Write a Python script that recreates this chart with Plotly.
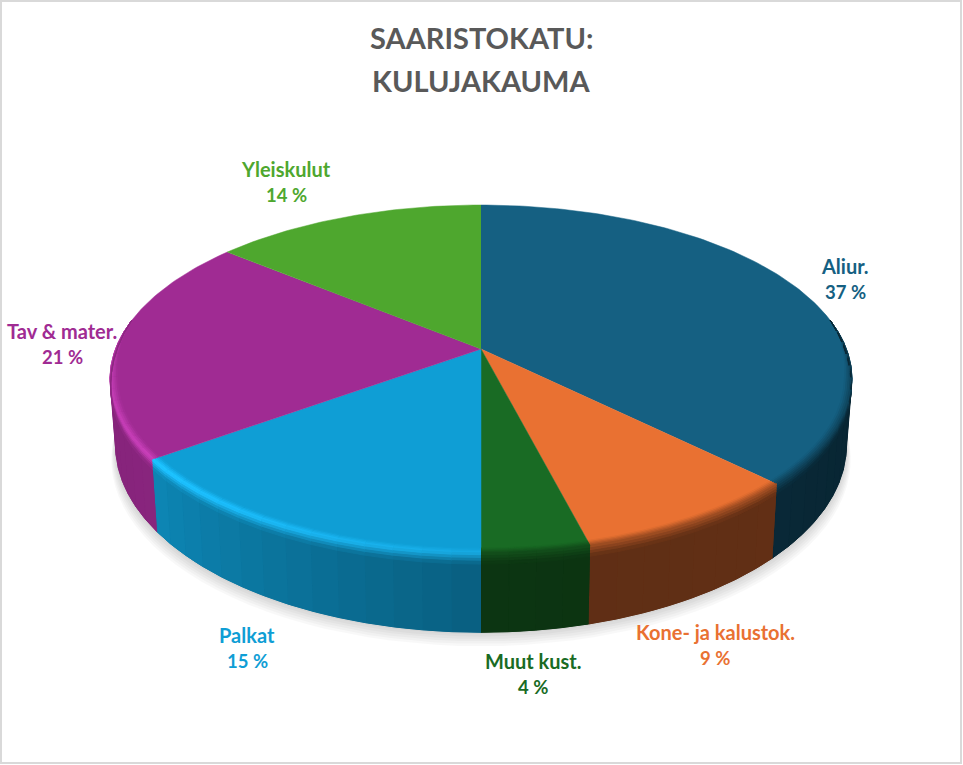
"""3D style cost split pie (Saaristokatu), drawn from the share values with filled traces."""

import numpy as np
import plotly.graph_objects as go

# values (labels show them rounded)
CATEGORIES = ["Aliur.", "Kone- ja kalustok.", "Muut kust.", "Palkat", "Tav & mater.", "Yleiskulut"]
SHARES = [37.4, 8.6, 4.0, 15.0, 21.0, 14.0]
TITLE_LINES = ["SAARISTOKATU:", "KULUJAKAUMA"]

COLORS = ["#156082", "#E97132", "#196B24", "#0F9ED5", "#A02B93", "#4EA72E"]
TITLE_COLOR = "#595959"
BORDER = "#d9d9d9"
FONT = "Lato"

# label centres in page pixels: (x, y of name, y of percent)
LABEL_POS = [(845, 266, 292), (715, 632, 658), (533, 661, 687),
             (247, 635, 661), (62, 331, 357), (286, 169, 195)]

# pie geometry in page pixels
W, H = 963, 765
CX, CY = 481, 349
A, B, K = 365.4, 168.8, 0.1724   # ellipse radii and perspective
DROP, SHRINK_X, GROW_Y = 64, 0.015, 0.075   # how the lower rim sits against the upper
BEVEL_SIDE, BEVEL_TOP = 0.14, 0.02
RIM_FROM, RIM_TO = 80, 280
STEP = 4
LAYERS = 8

# brightness of the wall by clockwise angle
SHADE_DEG = [80, 133, 165.5, 166, 179.9, 180, 234, 280]
SHADE_VAL = [0.36, 0.42, 0.41, 0.48, 0.50, 0.60, 0.85, 0.83]
# rim highlight strength by clockwise angle
GLOW_DEG = [0, 179.9, 180, 234, 285, 360]
GLOW_VAL = [0, 0, 0.6, 1.0, 0.7, 0.7]


def rgb(color):
    return np.array([int(color[i:i + 2], 16) for i in (1, 3, 5)], dtype=float)


def css(c):
    c = np.clip(c, 0, 255).round().astype(int)
    return f"rgb({c[0]},{c[1]},{c[2]})"


def top_xy(deg, r=1.0):
    th = np.radians(deg)
    x, y = r * np.sin(th), -r * np.cos(th)
    d = 1 - K * y
    return CX + A * x / d, CY + B * y / d


def wall_xy(deg, t):
    px, py = top_xy(deg)
    return CX + (px - CX) * (1 - SHRINK_X * t), CY + DROP * t + (py - CY) * (1 + GROW_Y * t)


def taper(deg):
    return np.clip(min(deg - RIM_FROM, RIM_TO - deg) / 20, 0, 1)


def rim_xy(deg, u):
    # u 0..0.5 runs over the top edge, 0.5..1 goes down the wall
    w = taper(deg)
    if u <= 0.5:
        return top_xy(deg, 1 - BEVEL_TOP * w * (1 - 2 * u))
    return wall_xy(deg, (u - 0.5) * 2 * BEVEL_SIDE * w)


def poly(fig, pts, color, name=None, width=1.0):
    fig.add_trace(go.Scatter(
        x=[p[0] for p in pts], y=[p[1] for p in pts], mode="lines", fill="toself",
        fillcolor=color, line=dict(color=color, width=width), showlegend=False,
        hoverinfo="text" if name else "skip", text=name,
    ))


def cell(fig, a0, a1, f0, f1, color):
    d0 = np.linspace(a0, a1, 3)
    poly(fig, [f0(d) for d in d0] + [f1(d) for d in d0[::-1]], color)


def rim_edges(a, b):
    lo, hi = max(a, RIM_FROM), min(b, RIM_TO)
    if lo >= hi:
        return []
    n = max(1, int(np.ceil((hi - lo) / STEP)))
    return np.linspace(lo, hi, n + 1)


fig = go.Figure()

# soft shadow below the lower rim
circle = np.arange(0, 361, 3)
for i in range(6):
    pts = [wall_xy(d, 1) for d in circle]
    xs = [CX + (p[0] - CX) * (1.002 + 0.002 * i) for p in pts]
    ys = [p[1] + 2 + 2.4 * i for p in pts]
    fig.add_trace(go.Scatter(x=xs, y=ys, mode="lines", fill="toself",
                             fillcolor="rgba(0,0,0,0.028)", line=dict(width=0),
                             showlegend=False, hoverinfo="skip"))

ends = np.cumsum(SHARES) / sum(SHARES) * 360
starts = np.concatenate([[0], ends[:-1]])

# walls: one solid piece per slice, then the shaded strips on it
for a, b, color in zip(starts, ends, COLORS):
    edges = rim_edges(a, b)
    if len(edges) == 0:
        continue
    base = rgb(color)
    mid = (edges[0] + edges[-1]) / 2
    whole = np.linspace(edges[0], edges[-1], 40)
    poly(fig, [wall_xy(d, 0) for d in whole] + [wall_xy(d, 1) for d in whole[::-1]],
         css(base * np.interp(mid, SHADE_DEG, SHADE_VAL)), width=0.5)
    for d0, d1 in zip(edges[:-1], edges[1:]):
        shade = np.interp((d0 + d1) / 2, SHADE_DEG, SHADE_VAL)
        cell(fig, d0, d1,
             lambda d: wall_xy(d, BEVEL_SIDE * taper(d)),
             lambda d: wall_xy(d, 1),
             css(base * shade))

# top faces
for name, share, a, b, color in zip(CATEGORIES, SHARES, starts, ends, COLORS):
    arc = np.arange(a, b + 0.5, 1.0)
    arc[-1] = b
    poly(fig, [(CX, CY)] + [top_xy(d) for d in arc], color, name=f"{name} {share:.0f} %", width=0.5)

# rounded rim between top face and wall
for a, b, color in zip(starts, ends, COLORS):
    edges = rim_edges(a, b)
    base = rgb(color)
    for d0, d1 in zip(edges[:-1], edges[1:]):
        mid = (d0 + d1) / 2
        wall = base * np.interp(mid, SHADE_DEG, SHADE_VAL)
        glow = np.interp(mid, GLOW_DEG, GLOW_VAL)
        peak = (base + (wall - base) * 0.5 * (1 - glow)) * (1 + 0.2 * glow) + 14 * glow
        for j in range(LAYERS):
            u0, u1 = j / LAYERS, (j + 1) / LAYERS
            u = (u0 + u1) / 2
            if u < 0.5:
                c = base + (peak - base) * (u / 0.5)
            else:
                c = peak + (wall - peak) * ((u - 0.5) / 0.5)
            cell(fig, d0, d1, lambda d: rim_xy(d, u0), lambda d: rim_xy(d, u1), css(c))

# labels
for name, share, color, (x, y0, y1) in zip(CATEGORIES, SHARES, COLORS, LABEL_POS):
    fig.add_annotation(x=x, y=y0, text=f"<b>{name}</b>", showarrow=False,
                       font=dict(family=FONT, size=20, color=color))
    fig.add_annotation(x=x, y=y1, text=f"<b>{share:.0f} %</b>", showarrow=False,
                       font=dict(family=FONT, size=18.5, color=color))

for line, y in zip(TITLE_LINES, [37, 80]):
    fig.add_annotation(x=481, y=y, text=f"<b>{line}</b>", showarrow=False,
                       font=dict(family=FONT, size=29, color=TITLE_COLOR))

fig.add_shape(type="rect", x0=1, y0=1, x1=961, y1=763, line=dict(color=BORDER, width=2))

fig.update_layout(
    width=W, height=H, margin=dict(l=0, r=0, t=0, b=0),
    paper_bgcolor="white", plot_bgcolor="white", showlegend=False,
    xaxis=dict(range=[0, W], visible=False, fixedrange=True),
    yaxis=dict(range=[H, 0], visible=False, fixedrange=True),
)

fig.write_html("out.html", config={"displayModeBar": False},
               post_script="document.body.style.margin='0';")
